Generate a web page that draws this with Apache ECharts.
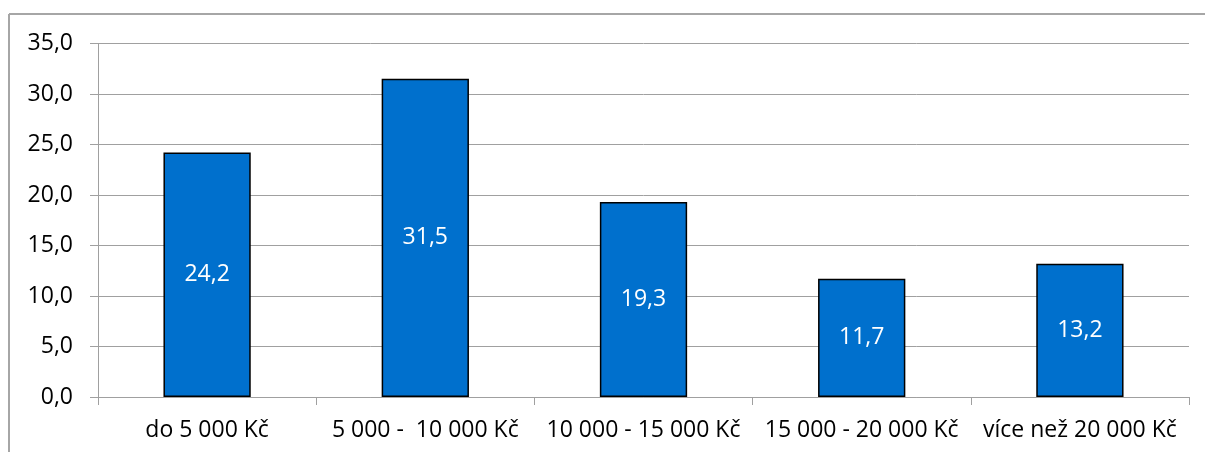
<!DOCTYPE html>
<html>
<head>
<meta charset="utf-8">
<script src="https://cdn.jsdelivr.net/npm/echarts@6/dist/echarts.min.js"></script>
<style>
html,body{margin:0;padding:0;background:#fff;}
#c{width:1205px;height:452px;}
</style>
</head>
<body>
<div id="c"></div>
<script>
const categories = ['do 5 000 Kč', '5 000 -  10 000 Kč', '10 000 - 15 000 Kč', '15 000 - 20 000 Kč', 'více než 20 000 Kč'];
const values = [24.2, 31.5, 19.3, 11.7, 13.2];
const yMin = 0, yMax = 35, yStep = 5;

const fmt = v => Number(v).toFixed(1).replace('.', ',');
const chart = echarts.init(document.getElementById('c'), null, {renderer: 'canvas'});
const font = '"Open Sans", "Noto Sans", sans-serif';
chart.setOption({
  animation: false,
  backgroundColor: '#ffffff',
  graphic: [
    {type: 'line', shape: {x1: 9, y1: 14, x2: 1205, y2: 14}, style: {stroke: '#a6a6a6', lineWidth: 2}},
    {type: 'line', shape: {x1: 9, y1: 14, x2: 9, y2: 452}, style: {stroke: '#a6a6a6', lineWidth: 2}}
  ],
  grid: {left: 98, right: 16, top: 43.5, bottom: 55, containLabel: false},
  xAxis: {
    type: 'category',
    data: categories,
    axisLine: {lineStyle: {color: '#a0a0a0', width: 1}},
    axisTick: {show: true, length: 8, alignWithLabel: false, lineStyle: {color: '#a0a0a0'}},
    axisLabel: {color: '#000', fontFamily: font, fontSize: 23, margin: 22, interval: 0}
  },
  yAxis: {
    type: 'value',
    min: yMin, max: yMax, interval: yStep,
    axisLine: {show: true, lineStyle: {color: '#a0a0a0', width: 1}},
    axisTick: {show: true, length: 8, lineStyle: {color: '#a0a0a0'}},
    splitLine: {show: true, lineStyle: {color: '#a0a0a0', width: 1}},
    axisLabel: {color: '#000', fontFamily: font, fontSize: 23, margin: 25, formatter: v => fmt(v)}
  },
  series: [{
    type: 'bar',
    data: values,
    barWidth: '40%',
    itemStyle: {color: '#0070CD', borderColor: '#000', borderWidth: 1.5},
    label: {show: true, position: 'inside', color: '#fff', fontFamily: font, fontSize: 23, formatter: p => fmt(p.value)}
  }]
});
</script>
</body>
</html>
